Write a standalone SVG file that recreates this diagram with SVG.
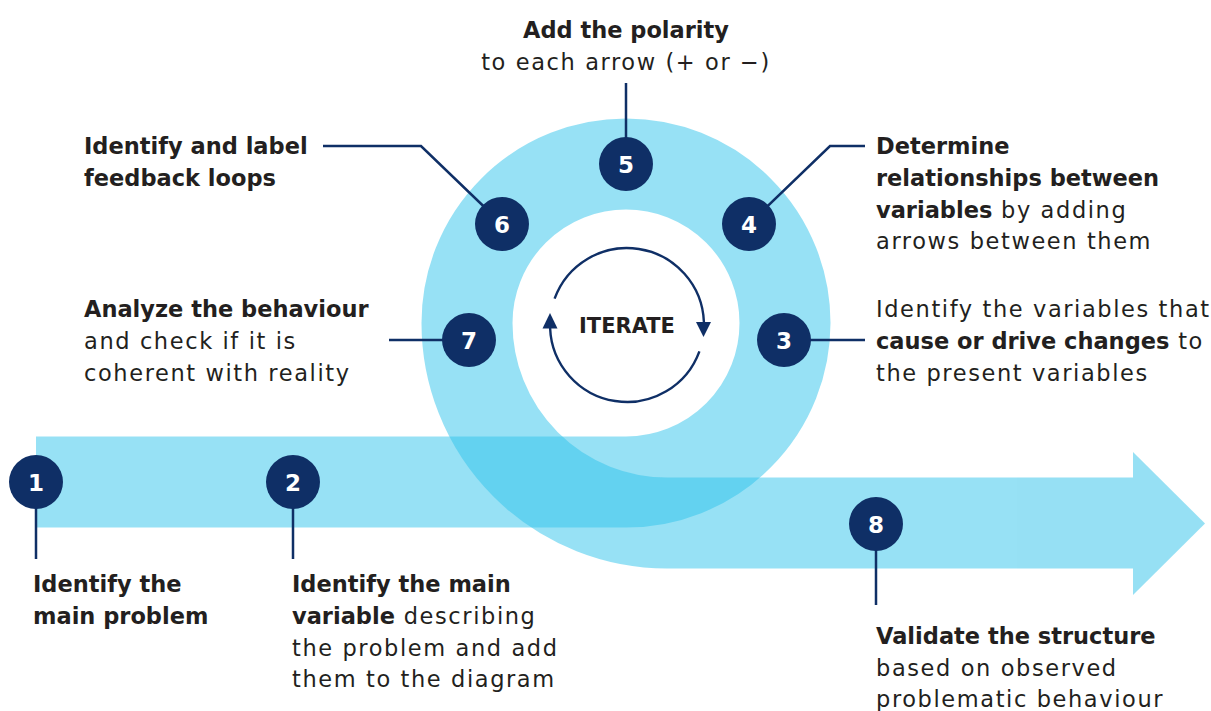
<svg xmlns="http://www.w3.org/2000/svg" width="1211" height="711" viewBox="0 0 1211 711">
  <style>
    .band { fill: none; stroke: #2FC3EB; stroke-width: 91; stroke-linecap: butt; }
    .lead { fill: none; stroke: #0F2F66; stroke-width: 2.5; }
    .dot { fill: #0F2F66; }
    .num { font-family: "DejaVu Sans", sans-serif; font-weight: bold; font-size: 23px; fill: #FFFFFF; text-anchor: middle; }
    .t { font-family: "DejaVu Sans", sans-serif; font-size: 22.5px; fill: #231F20; letter-spacing: 1.6px; }
    .b { font-weight: bold; letter-spacing: 0px; }
    .loop { fill: none; stroke: #0F2F66; stroke-width: 2.4; }
    .head { fill: #0F2F66; }
  </style>

  <!-- spiral track: inner piece (entry bar + right half of ring) -->
  <g id="track-in" opacity="0.5">
    <path class="band" d="M 36 482 H 626 A 159 159 0 0 0 785 323 A 159 159 0 0 0 626 164"/>
  </g>
  <!-- spiral track: outer piece (left half of ring + exit arrow) -->
  <g id="track-out" opacity="0.5">
    <path class="band" d="M 626 164 A 159 159 0 0 0 467 323 A 200 200 0 0 0 667 523 H 1134"/>
    <polygon points="1133,452 1205,523.5 1133,595" fill="#2FC3EB"/>
  </g>

  <!-- iterate cycle in the centre -->
  <g id="iterate">
    <path class="loop" d="M 554.6 298.7 A 77 77 0 0 1 703.9 322"/>
    <polygon class="head" points="696,322 711,322 703.5,337"/>
    <path class="loop" d="M 699.4 351.3 A 77 77 0 0 1 550.1 328"/>
    <polygon class="head" points="542.5,328.5 557.5,328.5 550,313"/>
    <text x="627" y="333" font-family="DejaVu Sans, sans-serif" font-weight="bold" font-size="21" fill="#231F20" text-anchor="middle">ITERATE</text>
  </g>

  <!-- leader lines -->
  <g id="connectors">
    <polyline class="lead" points="36,482 36,559"/>
    <polyline class="lead" points="293,482 293,559"/>
    <polyline class="lead" points="784,340 865,340"/>
    <polyline class="lead" points="749,224 830,146 865,146"/>
    <polyline class="lead" points="626,83 626,164"/>
    <polyline class="lead" points="323,146 421,146 502,224"/>
    <polyline class="lead" points="389,340 469,340"/>
    <polyline class="lead" points="876,524 876,605"/>
  </g>

  <!-- step 1 -->
  <g id="step1">
    <circle class="dot" cx="36" cy="482" r="27"/>
    <text class="num" x="36" y="490.5">1</text>
    <text class="t b" x="33" y="592">Identify the</text>
    <text class="t b" x="33" y="624">main problem</text>
  </g>

  <!-- step 2 -->
  <g id="step2">
    <circle class="dot" cx="293" cy="482" r="27"/>
    <text class="num" x="293" y="490.5">2</text>
    <text class="t b" x="292" y="592">Identify the main</text>
    <text class="t" x="292" y="624"><tspan class="b">variable</tspan> describing</text>
    <text class="t" x="292" y="656">the problem and add</text>
    <text class="t" x="292" y="687">them to the diagram</text>
  </g>

  <!-- step 3 -->
  <g id="step3">
    <circle class="dot" cx="784" cy="340" r="27"/>
    <text class="num" x="784" y="348.5">3</text>
    <text class="t" x="876" y="317">Identify the variables that</text>
    <text class="t" x="876" y="349"><tspan class="b">cause or drive changes</tspan> to</text>
    <text class="t" x="876" y="381">the present variables</text>
  </g>

  <!-- step 4 -->
  <g id="step4">
    <circle class="dot" cx="749" cy="224" r="27"/>
    <text class="num" x="749" y="232.5">4</text>
    <text class="t b" x="876" y="154">Determine</text>
    <text class="t b" x="876" y="186">relationships between</text>
    <text class="t" x="876" y="218"><tspan class="b">variables</tspan> by adding</text>
    <text class="t" x="876" y="249">arrows between them</text>
  </g>

  <!-- step 5 -->
  <g id="step5">
    <circle class="dot" cx="626" cy="164" r="27"/>
    <text class="num" x="626" y="172.5">5</text>
    <text class="t b" x="626" y="38" text-anchor="middle">Add the polarity</text>
    <text class="t" x="626" y="70" text-anchor="middle" letter-spacing="1.3">to each arrow (+ or −)</text>
  </g>

  <!-- step 6 -->
  <g id="step6">
    <circle class="dot" cx="502" cy="224" r="27"/>
    <text class="num" x="502" y="232.5">6</text>
    <text class="t b" x="84" y="154">Identify and label</text>
    <text class="t b" x="84" y="186">feedback loops</text>
  </g>

  <!-- step 7 -->
  <g id="step7">
    <circle class="dot" cx="469" cy="340" r="27"/>
    <text class="num" x="469" y="348.5">7</text>
    <text class="t b" x="84" y="317">Analyze the behaviour</text>
    <text class="t" x="84" y="349">and check if it is</text>
    <text class="t" x="84" y="381">coherent with reality</text>
  </g>

  <!-- step 8 -->
  <g id="step8">
    <circle class="dot" cx="876" cy="524" r="27"/>
    <text class="num" x="876" y="532.5">8</text>
    <text class="t b" x="876" y="644">Validate the structure</text>
    <text class="t" x="876" y="676">based on observed</text>
    <text class="t" x="876" y="707">problematic behaviour</text>
  </g>
</svg>
